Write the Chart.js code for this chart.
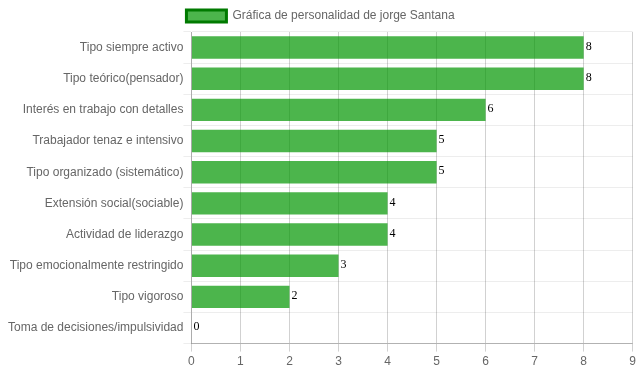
<!DOCTYPE html>
<html>
<head>
<meta charset="utf-8">
<script src="https://cdn.jsdelivr.net/npm/chart.js@4"></script>
<style>
  html, body { margin: 0; padding: 0; background: #fff; }
  #wrap { width: 639px; height: 372px; }
</style>
</head>
<body>
<div id="wrap"><canvas id="personalityChart"></canvas></div>
<script>
  const categories = [
    'Tipo siempre activo',
    'Tipo teórico(pensador)',
    'Interés en trabajo con detalles',
    'Trabajador tenaz e intensivo',
    'Tipo organizado (sistemático)',
    'Extensión social(sociable)',
    'Actividad de liderazgo',
    'Tipo emocionalmente restringido',
    'Tipo vigoroso',
    'Toma de decisiones/impulsividad'
  ];
  const scores = [8, 8, 6, 5, 5, 4, 4, 3, 2, 0];
  const seriesName = 'Gráfica de personalidad de jorge Santana';
  const xMax = 9;

  Chart.defaults.font.family = "'Liberation Sans', Arial, sans-serif";
  Chart.defaults.font.size = 12;
  Chart.defaults.color = '#666';

  // value next to the end of each bar
  const valueLabels = {
    id: 'valueLabels',
    afterDatasetsDraw(chart) {
      const ctx = chart.ctx;
      ctx.save();
      ctx.font = "12px 'Liberation Serif', serif";
      ctx.fillStyle = '#000';
      ctx.textAlign = 'left';
      ctx.textBaseline = 'middle';
      chart.getDatasetMeta(0).data.forEach(function (bar, i) {
        ctx.fillText(scores[i], bar.x + 2, bar.y - 1);
      });
      ctx.restore();
    }
  };

  const ctx = document.getElementById('personalityChart').getContext('2d');
  new Chart(ctx, {
    type: 'bar',
    data: {
      labels: categories,
      datasets: [{
        label: seriesName,
        data: scores,
        backgroundColor: 'rgba(0, 150, 0, 0.7)',
        borderColor: '#007a00',
        borderWidth: 0
      }]
    },
    options: {
      indexAxis: 'y',
      responsive: true,
      maintainAspectRatio: false,
      animation: false,
      layout: { padding: { top: 0, right: 6, bottom: 0, left: 8 } },
      plugins: {
        legend: {
          labels: {
            boxWidth: 40,
            generateLabels: function (chart) {
              return [{
                text: seriesName,
                fillStyle: 'rgba(0, 150, 0, 0.7)',
                strokeStyle: '#007a00',
                lineWidth: 3,
                fontColor: '#666',
                datasetIndex: 0
              }];
            }
          }
        },
        tooltip: { enabled: false }
      },
      scales: {
        x: {
          min: 0,
          max: xMax,
          ticks: { stepSize: 1 },
          grid: { color: 'rgba(0,0,0,0.18)', tickLength: 8 },
          border: { color: 'rgba(0,0,0,0.25)' }
        },
        y: {
          ticks: { padding: 0 },
          grid: { color: 'rgba(0,0,0,0.07)', tickLength: 8 },
          border: { color: 'rgba(0,0,0,0.18)' }
        }
      }
    },
    plugins: [valueLabels]
  });
</script>
</body>
</html>
